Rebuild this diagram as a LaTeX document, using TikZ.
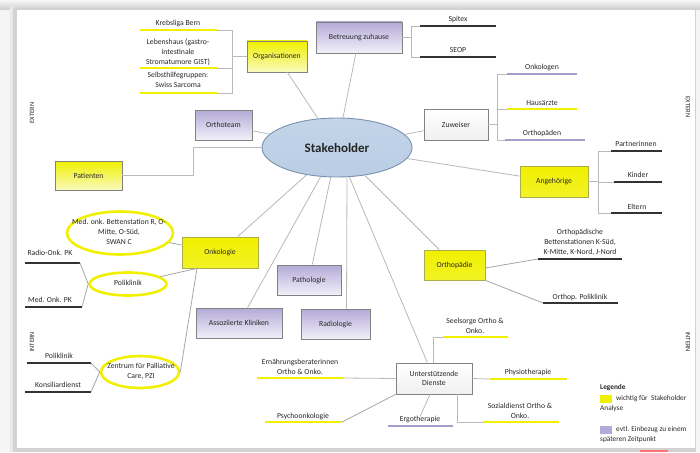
\documentclass[tikz,border=0pt]{standalone}
\usepackage{fontspec}
\setmainfont{Carlito}
\usetikzlibrary{shapes.geometric,shadows}
\definecolor{yel}{RGB}{240,240,0}
\definecolor{yelpale}{RGB}{250,250,190}
\definecolor{lav}{RGB}{180,170,215}
\definecolor{lavpale}{RGB}{242,240,250}
\definecolor{lavline}{RGB}{165,158,205}
\definecolor{conn}{RGB}{185,185,185}
\definecolor{boxborder}{RGB}{130,130,130}
\definecolor{ellfill}{RGB}{185,205,228}
\definecolor{ellborder}{RGB}{120,145,175}
\definecolor{darkline}{RGB}{50,50,50}
\definecolor{txt}{RGB}{40,40,40}
\tikzset{
  basebox/.style={draw=boxborder, line width=0.7pt, inner sep=1pt, align=center,
    font=\fontsize{7.7}{9.5}\selectfont, text=txt,
    drop shadow={opacity=0.25, shadow xshift=1pt, shadow yshift=-1pt}},
  ybox/.style={basebox, top color=yel, bottom color=yel!85!white, draw=yel!40!gray},
  yboxg/.style={basebox, top color=yel, bottom color=yelpale},
  pbox/.style={basebox, top color=lav, bottom color=lavpale},
  wbox/.style={basebox, top color=white, bottom color=gray!12},
  lbl/.style={font=\fontsize{7.7}{10.2}\selectfont, text=txt, align=center, inner sep=0pt},
  lblleft/.style={lbl, anchor=west, align=left},
  cn/.style={draw=conn, line width=0.8pt},
  blk/.style={draw=darkline, line width=1.8pt},
  yl/.style={draw=yel, line width=2pt},
  pl/.style={draw=lavline, line width=1.8pt},
  yell/.style={ellipse, draw=yel, line width=2.6pt, inner sep=0pt},
  side/.style={font=\fontsize{6.5}{7}\selectfont, text=txt, inner sep=0pt},
}
\begin{document}
\begin{tikzpicture}[x=1pt,y=-1pt]
\useasboundingbox (0,0) rectangle (700,452);
% background and page
\fill[gray!8] (0,0) rectangle (700,452);
\shade[top color=gray!6, bottom color=gray!40] (0,0) rectangle (700,10);
\fill[gray!35] (13,8) rectangle (696,452);
\fill[gray!18] (10,6) rectangle (13,452);
\fill[white] (17,10) rectangle (695,448);
\fill[red!55] (640,449.5) rectangle (668,452);

% central ellipse
\node[ellipse, draw=ellborder, line width=0.9pt, top color=ellfill!85, bottom color=ellfill,
  minimum width=150pt, minimum height=59pt, font=\fontsize{13}{15}\selectfont\bfseries, text=black!85]
  (sh) at (337,147.5) {Stakeholder};

% main boxes
\node[yboxg, minimum width=60pt, minimum height=31pt] (org) at (277,56.5) {Organisationen};
\node[pbox, minimum width=86pt, minimum height=31pt] (betr) at (359,37.5) {Betreuung zuhause};
\node[pbox, minimum width=57pt, minimum height=30pt] (oteam) at (223.5,125) {Orthoteam};
\node[wbox, minimum width=64pt, minimum height=31pt] (zuw) at (456,124.5) {Zuweiser};
\node[ybox, minimum width=68pt, minimum height=31pt] (ang) at (554,181.5) {Angehörige};
\node[yboxg, minimum width=67pt, minimum height=29pt] (pat) at (88.5,175.5) {Patienten};
\node[ybox, minimum width=76pt, minimum height=31pt] (onk) at (220,252.5) {Onkologie};
\node[pbox, minimum width=64pt, minimum height=30pt] (path) at (309,280) {Pathologie};
\node[pbox, minimum width=86pt, minimum height=30pt] (assoz) at (239,323) {Assoziierte Kliniken};
\node[pbox, minimum width=69pt, minimum height=30pt] (radio) at (335.5,324) {Radiologie};
\node[ybox, minimum width=61pt, minimum height=30pt] (orthop) at (454.5,265) {Orthopädie};
\node[wbox, minimum width=76pt, minimum height=31pt] (unt) at (434,378.5) {Unterstützende\\Dienste};

% connectors from Stakeholder
\draw[cn] (sh) -- (org);
\draw[cn] (sh) -- (betr);
\draw[cn] (sh) -- (oteam);
\draw[cn] (sh) -- (zuw);
\draw[cn] (sh) -- (ang);
\draw[cn] (sh) -- (onk);
\draw[cn] (sh) -- (assoz);
\draw[cn] (sh) -- (path);
\coordinate (radtop) at ([xshift=11pt]radio.north);
\coordinate (radsh) at (347,176.5);
\draw[cn] (radtop) -- (radsh);
\draw[cn] (sh) -- (unt);
\draw[cn] (sh) -- (orthop);
\draw[cn] (pat.east) -- ++(71,0) |- (sh.west);

% Organisationen branch
\node[lbl] (kb) at (178,23) {Krebsliga Bern};
\node[lbl] (lh) at (178,52) {Lebenshaus (gastro-\\intestinale\\Stromatumore GIST)};
\node[lbl] (shg) at (178,80) {Selbsthilfegruppen:\\Swiss Sarcoma};
\coordinate (kbL) at (140,30); \coordinate (kbR) at (217,30);
\coordinate (lhL) at (140,68); \coordinate (lhR) at (217,68);
\coordinate (shL) at (140,93); \coordinate (shR) at (217,93);
\draw[yl] (kbL) -- (kbR);
\draw[yl] (lhL) -- (lhR);
\draw[yl] (shL) -- (shR);
\coordinate (orgJ) at (232,56.5);
\draw[cn] (org.west) -- (orgJ);
\draw[cn] (kbR) -| (orgJ);
\draw[cn] (lhR) -| (orgJ);
\draw[cn] (shR) -| (orgJ);

% Betreuung branch
\node[lbl] (spi) at (458,19) {Spitex};
\node[lbl] (seop) at (458,50) {SEOP};
\coordinate (spL) at (420,26); \coordinate (spR) at (496,26);
\coordinate (seL) at (420,57); \coordinate (seR) at (496,57);
\draw[blk] (spL) -- (spR);
\draw[blk] (seL) -- (seR);
\coordinate (bJ) at (411,37.5);
\draw[cn] (betr.east) -- (bJ);
\draw[cn] (spL) -| (bJ);
\draw[cn] (seL) -| (bJ);

% Zuweiser branch
\node[lbl] (onkg) at (542,67) {Onkologen};
\node[lbl] (haus) at (542,102.5) {Hausärzte};
\node[lbl] (orthd) at (542,133) {Orthopäden};
\coordinate (ogL) at (507,74); \coordinate (ogR) at (577,74);
\coordinate (haL) at (507,109); \coordinate (haR) at (577,109);
\coordinate (odL) at (505,140); \coordinate (odR) at (585,140);
\draw[pl] (ogL) -- (ogR);
\draw[yl] (haL) -- (haR);
\draw[pl] (odL) -- (odR);
\coordinate (zJ) at (497,124.5);
\draw[cn] (zuw.east) -- (zJ);
\draw[cn] (ogL) -| (zJ);
\draw[cn] (haL) -| (zJ);
\draw[cn] (odL) -| (zJ);

% Angehoerige branch
\node[lbl] (part) at (636,144) {Partnerinnen};
\node[lbl] (kind) at (638,174.5) {Kinder};
\node[lbl] (elt) at (637,206.5) {Eltern};
\coordinate (paL) at (611,151); \coordinate (paR) at (662,151);
\coordinate (kiL) at (614,182); \coordinate (kiR) at (662,182);
\coordinate (elL) at (611,213); \coordinate (elR) at (662,213);
\draw[blk] (paL) -- (paR);
\draw[blk] (kiL) -- (kiR);
\draw[blk] (elL) -- (elR);
\coordinate (aJ) at (598,181.5);
\draw[cn] (ang.east) -- (aJ);
\draw[cn] (paL) -| (aJ);
\draw[cn] (kiL) -| (aJ);
\draw[cn] (elL) -| (aJ);

% Onkologie branch
\node[yell, minimum width=106pt, minimum height=43pt] (mo) at (120,233) {};
\node[lbl] (motxt) at (119,232) {Med. onk. Bettenstation R, O-\\Mitte, O-Süd,\\SWAN C};
\node[yell, minimum width=77pt, minimum height=23pt] (pk) at (128,284) {};
\node[lbl] (pktxt) at (128,283) {Poliklinik};
\node[yell, minimum width=78pt, minimum height=32pt] (pzi) at (140,372) {};
\node[lbl] (pzitxt) at (141,371) {Zentrum für Palliative\\Care, PZI};
\coordinate (onkB) at ([xshift=-23pt]onk.south);
\draw[cn, draw=gray!70] (mo) -- (onk);
\draw[cn, draw=gray!70] (pk) -- (onkB);
\draw[cn, draw=gray!70] (pzi.east) -- (onkB);

\node[lbl] (ro) at (50,253) {Radio-Onk. PK};
\node[lbl] (mop) at (50,300) {Med. Onk. PK};
\coordinate (roL) at (25,263); \coordinate (roR) at (80,263);
\coordinate (mpL) at (25,307); \coordinate (mpR) at (82,307);
\draw[blk] (roL) -- (roR);
\draw[blk] (mpL) -- (mpR);
\draw[cn, draw=gray!70] (roR) -- (pk.west);
\draw[cn, draw=gray!70] (mpR) -- (pk.west);

\node[lbl] (pl2) at (59,356) {Poliklinik};
\node[lbl] (kd) at (58,384.5) {Konsiliardienst};
\coordinate (plL) at (27,363); \coordinate (plR) at (91,363);
\coordinate (kdL) at (25,392); \coordinate (kdR) at (91,392);
\draw[blk] (plL) -- (plR);
\draw[blk] (kdL) -- (kdR);
\draw[cn, draw=gray!70] (plR) -- (pzi.west);
\draw[cn, draw=gray!70] (kdR) -- (pzi.west);

% Orthopaedie branch
\node[lbl] (obs) at (580,242.5) {Orthopädische\\Bettenstationen K-Süd,\\K-Mitte, K-Nord, J-Nord};
\node[lbl] (opk) at (580,297) {Orthop. Poliklinik};
\coordinate (obL) at (538,259); \coordinate (obR) at (622,259);
\coordinate (opL) at (543,303); \coordinate (opR) at (618,303);
\draw[blk] (obL) -- (obR);
\draw[blk] (opL) -- (opR);
\draw[cn, draw=gray!70] ([yshift=-3pt]orthop.east) -- (obL);
\draw[cn, draw=gray!70] (orthop.south east) -- (opL);

% Unterstuetzende Dienste branch
\node[lbl] (ss) at (475,325.5) {Seelsorge Ortho \&\\Onko.};
\node[lbl] (pt) at (528,372) {Physiotherapie};
\node[lbl] (sd) at (520,410.5) {Sozialdienst Ortho \&\\Onko.};
\node[lbl] (et) at (420,419) {Ergotherapie};
\node[lbl] (eb) at (300,367) {Ernährungsberaterinnen\\Ortho \& Onko.};
\node[lbl] (po) at (303,416) {Psychoonkologie};
\coordinate (ssL) at (443,337); \coordinate (ssR) at (508,337);
\coordinate (ptL) at (490,379); \coordinate (ptR) at (567,379);
\coordinate (sdL) at (483,422); \coordinate (sdR) at (559,422);
\coordinate (etL) at (388,426); \coordinate (etR) at (453,426);
\coordinate (ebL) at (257,378); \coordinate (ebR) at (344,378);
\coordinate (poL) at (265,422); \coordinate (poR) at (342,422);
\draw[yl] (ssL) -- (ssR);
\draw[yl] (ptL) -- (ptR);
\draw[yl] (sdL) -- (sdR);
\draw[pl] (etL) -- (etR);
\draw[yl] (ebL) -- (ebR);
\draw[yl] (poL) -- (poR);
\draw[cn] ([xshift=-1pt]unt.north) |- (ssL);
\draw[cn] (unt.east) -- (ptL);
\draw[cn] ([xshift=23pt]unt.south) |- (sdL);
\draw[cn] ([xshift=-4pt]unt.south) -- ([yshift=-1pt]et.north);
\draw[cn] (ebR) -- (unt.west);
\draw[cn, draw=gray!70] (poR) -- (unt.south west);

% side labels
\node[side, rotate=90] (ext1) at (32,113) {EXTERN};
\node[side, rotate=90] (int1) at (32,342) {INTERN};
\node[side, rotate=-90] (ext2) at (688,107) {EXTERN};
\node[side, rotate=-90] (int2) at (688,342) {INTERN};

% legend
\node[lblleft, font=\fontsize{7.3}{9}\selectfont\bfseries] (leg) at (600,388) {Legende};
\fill[yel] (600,395) rectangle (612,403);
\node[lblleft, font=\fontsize{7.3}{9}\selectfont] (leg1) at (616,399) {wichtig für\ \ Stakeholder};
\node[lblleft, font=\fontsize{7.3}{9}\selectfont] (leg1b) at (600,408.5) {Analyse};
\fill[lav] (600,426) rectangle (612,434);
\node[lblleft, font=\fontsize{7.3}{9}\selectfont] (leg2) at (616,430) {evtl. Einbezug zu einem};
\node[lblleft, font=\fontsize{7.3}{9}\selectfont] (leg2b) at (600,440) {späteren Zeitpunkt};
\end{tikzpicture}
\end{document}
